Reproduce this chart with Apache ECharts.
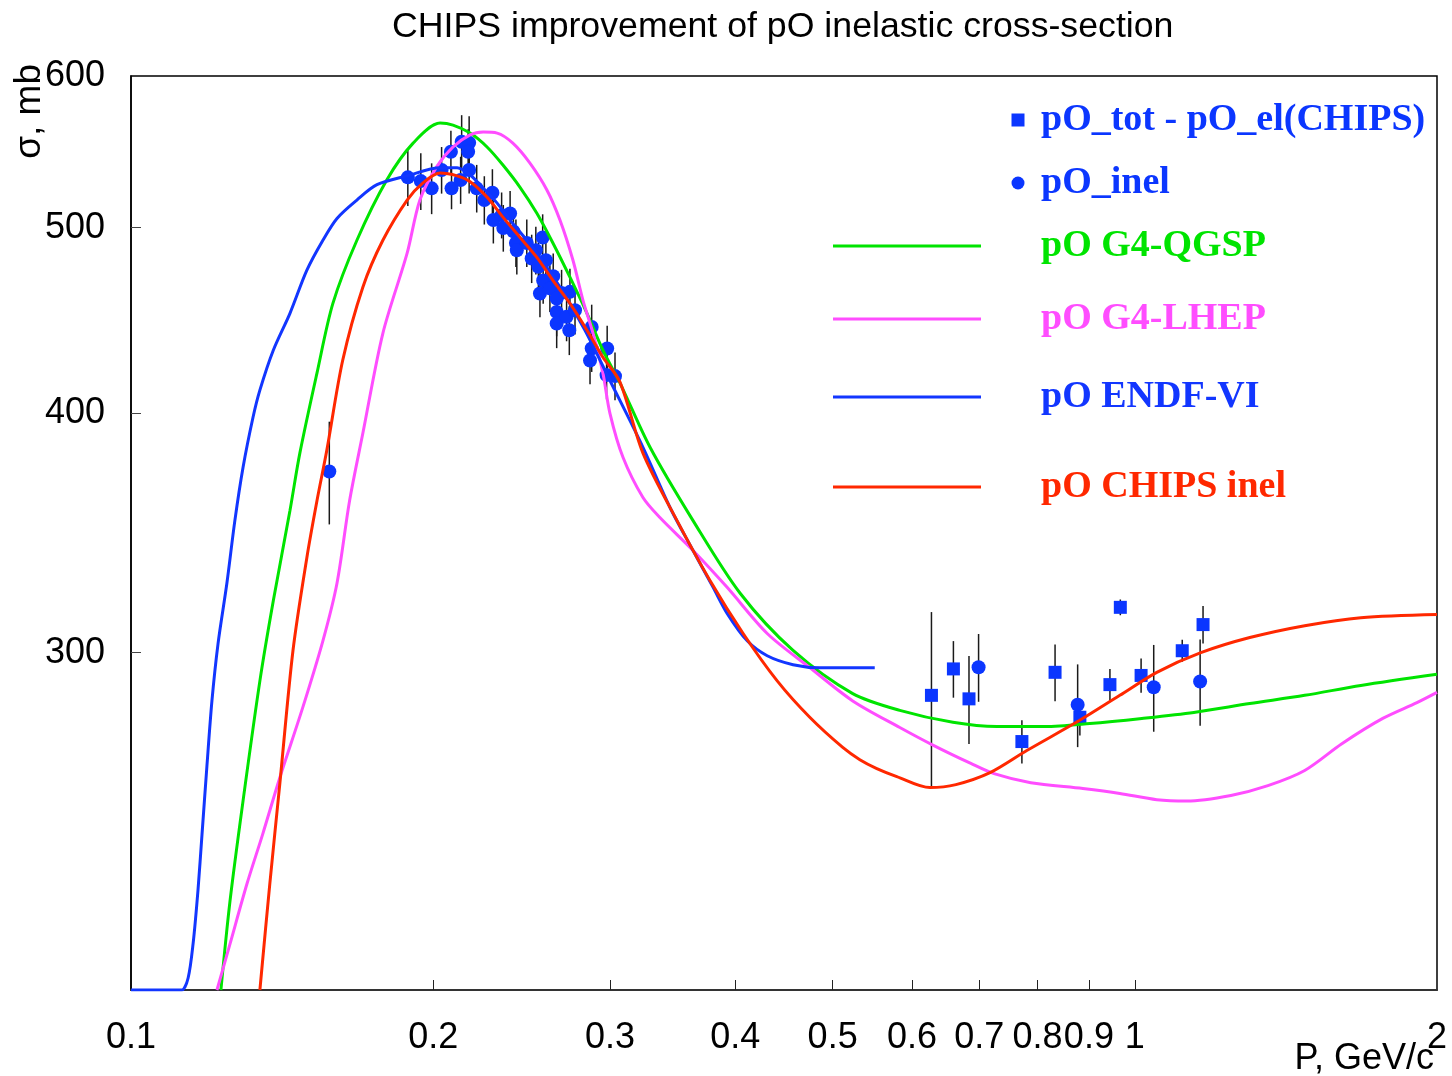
<!DOCTYPE html>
<html><head><meta charset="utf-8">
<script src="https://cdn.jsdelivr.net/npm/echarts@6/dist/echarts.min.js"></script>
<style>html,body{margin:0;padding:0;background:#fff}#c{width:1452px;height:1076px}</style>
</head><body><div id="c"></div>
<script>
// ---- axis ticks / labels (P in GeV/c, sigma in mb) ----
const xLabelValues = [0.1,0.2,0.3,0.4,0.5,0.6,0.7,0.8,0.9,1,2];
const xTickValues  = [0.2,0.3,0.4,0.5,0.6,0.7,0.8,0.9,1];
const yLabelValues = [300,400,500,600];
const yTickValues  = [300,400,500];

// ---- curves ----
const qgspX = [0.1229,0.1255,0.1293,0.1344,0.1386,0.1440,0.1473,0.1532,0.1589,0.1679,0.1798,0.1910,0.2032,0.2093,0.2177,0.2263,0.2347,0.2440,0.2537,0.2632,0.2737,0.2846,0.2952,0.3070,0.3289,0.3630,0.4044,0.4566,0.5236,0.5833,0.6588,0.7290,0.8135,0.9020,1.0162,1.1450,1.3018,1.4765,1.6794,2.0];
const qgspY = [200,222.6,251.0,290.0,319.3,355.9,381.3,419.8,456.5,492.5,529.5,553.5,567.0,565.6,560.2,550.9,539.1,525.0,508.7,490.9,471.1,451.1,431.5,414.8,384.0,351.6,322.2,300.8,285.6,279.9,275.9,274.5,274.5,275.5,277.2,279.2,282.2,285.0,288.4,292.3];

const lhepX = [0.1218,0.1255,0.1305,0.1353,0.1407,0.1483,0.1553,0.1604,0.1651,0.1702,0.1782,0.1884,0.1940,0.2016,0.2093,0.2177,0.2243,0.2316,0.2401,0.2496,0.2596,0.2675,0.2756,0.2820,0.2886,0.2952,0.3000,0.3091,0.3236,0.3364,0.3630,0.3925,0.4303,0.4747,0.5236,0.5833,0.6307,0.6865,0.7240,0.7877,0.8877,0.9662,1.0517,1.1268,1.2465,1.3570,1.4765,1.6078,1.7660,1.9100,2.0];
const lhepY = [200,211.4,227.3,241.3,258.2,280.9,304.3,326.1,360.1,390.5,440.4,484.9,516.9,537.9,550.9,559.0,560.9,560.2,553.5,540.5,523.2,504.6,480.8,458.2,440.4,419.8,400.0,379.4,361.5,352.9,339.2,324.5,307.0,294.6,283.1,274.2,268.3,262.6,259.4,256.6,254.8,253.3,251.4,251.0,252.7,255.7,260.4,268.9,277.2,282.5,286.0];

const endfX = [0.1,0.1106,0.1124,0.1140,0.1153,0.1166,0.1177,0.1190,0.1204,0.1221,0.1246,0.1269,0.1293,0.1323,0.1344,0.1386,0.1440,0.1497,0.1553,0.1604,0.1679,0.1758,0.1884,0.2032,0.2113,0.2177,0.2243,0.2316,0.2386,0.2525,0.2675,0.2833,0.3000,0.3236,0.3443,0.3630,0.3801,0.3925,0.4110,0.4303,0.4566,0.4856,0.5507];
const endfY = [200,200,200,202.9,211.4,225.4,241.3,261.4,283.1,303.3,326.1,351.6,374.8,398.1,411.3,431.5,451.1,475.1,492.5,505.6,516.9,526.5,532.1,537.3,537.3,532.7,524.4,515.0,504.6,486.6,465.5,442.0,416.1,384.0,357.2,339.2,324.5,314.5,304.3,298.9,295.7,294.6,294.6];

const chipsX = [0.1344,0.1375,0.1407,0.1450,0.1497,0.1532,0.1567,0.1625,0.1702,0.1782,0.1884,0.1954,0.2032,0.2113,0.2177,0.2263,0.2347,0.2440,0.2537,0.2632,0.2737,0.2846,0.2952,0.3070,0.3236,0.3499,0.3775,0.4072,0.4403,0.4747,0.5117,0.5322,0.5533,0.5793,0.6250,0.6634,0.7174,0.7805,0.8796,0.9662,1.0517,1.1635,1.3018,1.4765,1.6794,2.0];
const chipsY = [200,227.3,256.4,300.8,336.4,360.1,382.6,426.2,465.5,492.5,516.9,527.7,533.9,532.1,528.4,518.7,506.4,494.3,482.5,469.3,456.5,442.0,427.9,415.3,381.3,351.6,327.1,307.0,290.0,277.5,267.7,263.8,261.0,258.5,255.1,256.0,259.7,266.7,276.4,285.0,293.0,300.0,305.5,309.9,312.9,314.1];

// ---- data points ----
const totX = [0.6272,0.6596,0.6836,0.7718,0.8328,0.8816,0.9445,0.9673,1.0145,1.1149,1.1694];
const totY = [285.0,294.2,283.8,269.6,293.0,277.6,288.7,316.8,291.9,300.7,310.3];
const totErr = [30,10,15,7,10,6,5.5,3,6,4,7];

const inelX = [0.1576,0.1887,0.1944,0.1993,0.2039,0.2083,0.2086,0.2135,0.2172,0.2167,0.2130,0.2172,0.2210,0.2249,0.2291,0.2296,0.2340,0.2349,0.2386,0.2404,0.2418,0.2423,0.2479,0.2507,0.2531,0.2571,0.2546,0.2590,0.2574,0.2555,0.2634,0.2614,0.2685,0.2655,0.2737,0.2655,0.2655,0.2716,0.2769,0.2733,0.2877,0.2877,0.2866,0.2981,0.2977,0.3035,0.6988,0.8771,1.0443,1.1616];
const inelY = [373.0,531.2,528.8,524.2,535.9,547.8,524.2,554.4,553.7,547.8,529.5,535.9,524.2,516.9,521.4,504.6,507.6,499.8,508.6,497.8,490.9,486.6,490.9,481.8,486.6,494.1,477.0,480.8,469.3,462.0,471.7,464.8,462.3,459.2,462.9,451.8,445.6,449.2,452.8,442.0,443.8,432.4,426.2,432.4,418.8,418.3,294.8,281.8,287.8,289.8];
const inelErr = [23,18,18,16,15,14,13,18,18,15,15,15,15,15,15,14,14,14,14,14,14,14,14,14,14,14,14,13,13,13,13,13,13,13,13,13,13,13,13,13,12,12,12,12,12,12,12,14,15,15];

// ---- styling ----
const C_BLUE_PT = '#0b36ff', C_GREEN = '#00e400', C_MAG = '#ff4dff', C_BLUE = '#1236ff', C_RED = '#ff2800';
const L = Math.log10;
const pts = (xs, ys) => xs.map((x, i) => [L(x), L(ys[i])]);
const errs = (xs, ys, es) => xs.map((x, i) => [L(x), L(ys[i] - es[i]), L(ys[i] + es[i])]);
const fmt = v => String(parseFloat(Math.pow(10, v).toPrecision(6)));

function errSeries(name, data) {
  return {
    type: 'custom', name: name, z: 2, data: data, encode: {x: 0, y: [1, 2]},
    renderItem: function (params, api) {
      const a = api.coord([api.value(0), api.value(1)]);
      const b = api.coord([api.value(0), api.value(2)]);
      return {type: 'line', shape: {x1: a[0], y1: a[1], x2: b[0], y2: b[1]},
              style: {stroke: '#1a1a1a', lineWidth: 1.5}};
    }
  };
}
function lineSeries(name, xs, ys, color, z) {
  return {type: 'line', name: name, data: pts(xs, ys), color: color, z: z,
          showSymbol: false, symbol: 'none', smooth: 0.3,
          lineStyle: {color: color, width: 3}};
}
function legendBox(name, icon, color, left, cy, w, h, pad) {
  return {show: true, data: [{name: name, icon: icon}], left: left, top: cy - 24,
          orient: 'horizontal', padding: 0, itemGap: 0, itemWidth: w, itemHeight: h,
          selectedMode: false, itemStyle: {borderWidth: 0},
          textStyle: {color: color, fontFamily: 'Liberation Serif', fontWeight: 'bold',
                      fontSize: 38, lineHeight: 40, padding: [8, 0, 0, pad]}};
}

const chart = echarts.init(document.getElementById('c'), null, {renderer: 'canvas'});
chart.setOption({
  animation: false,
  backgroundColor: '#fff',
  title: {text: 'CHIPS improvement of pO inelastic cross-section', left: 392, top: 7, padding: 0,
          textStyle: {fontFamily: 'Liberation Sans', fontWeight: 'normal', fontSize: 35.7, lineHeight: 40, color: '#000'}},
  legend: [
    legendBox('pO_tot - pO_el(CHIPS)', 'rect', C_BLUE_PT, 1011.5, 120, 13, 13, 11.5),
    legendBox('pO_inel', 'circle', C_BLUE_PT, 1011.5, 183, 13, 13, 11.5),
    legendBox('pO G4-QGSP', 'rect', C_GREEN, 833, 246, 148, 3, 55),
    legendBox('pO G4-LHEP', 'rect', C_MAG, 833, 319, 148, 3, 55),
    legendBox('pO ENDF-VI', 'rect', C_BLUE, 833, 397, 148, 3, 55),
    legendBox('pO CHIPS inel', 'rect', C_RED, 833, 487, 148, 3, 55)
  ],
  grid: {left: 131, right: 15, top: 76, bottom: 86, show: true, borderColor: '#000', borderWidth: 1.5,
         backgroundColor: '#fff', containLabel: false, outerBoundsMode: 'none'},
  xAxis: {
    type: 'value', min: L(0.1), max: L(2),
    name: 'P, GeV/c', nameLocation: 'end', nameGap: -3, nameMoveOverlap: false,
    nameTextStyle: {fontFamily: 'Liberation Sans', fontSize: 36, lineHeight: 40, color: '#000',
                    align: 'right', verticalAlign: 'top', padding: [49, 0, 0, 0]},
    axisLine: {show: true, onZero: false, lineStyle: {color: '#333', width: 2}},
    axisTick: {show: true, inside: true, length: 10, customValues: xTickValues.map(L), lineStyle: {color: '#222', width: 1}},
    axisLabel: {show: true, margin: 30, customValues: xLabelValues.map(L), formatter: fmt, hideOverlap: false,
                fontFamily: 'Liberation Sans', fontSize: 36, lineHeight: 36, color: '#000'},
    splitLine: {show: false}
  },
  yAxis: {
    type: 'value', min: L(200), max: L(600),
    name: 'σ, mb', nameLocation: 'end', nameRotate: 90, nameGap: 12, nameMoveOverlap: false,
    nameTextStyle: {fontFamily: 'Liberation Sans', fontSize: 37, lineHeight: 203, color: '#000',
                    align: 'right', verticalAlign: 'bottom'},
    axisLine: {show: true, onZero: false, lineStyle: {color: '#000', width: 1.5}},
    axisTick: {show: true, inside: true, length: 10, customValues: yTickValues.map(L), lineStyle: {color: '#444', width: 1}},
    axisLabel: {show: true, margin: 26, customValues: yLabelValues.map(L), formatter: fmt, hideOverlap: false,
                fontFamily: 'Liberation Sans', fontSize: 36, lineHeight: 36, color: '#000', padding: [4, 0, 0, 0]},
    splitLine: {show: false}
  },
  series: [
    errSeries('err_tot', errs(totX, totY, totErr)),
    errSeries('err_inel', errs(inelX, inelY, inelErr)),
    {type: 'scatter', name: 'pO_tot - pO_el(CHIPS)', data: pts(totX, totY), symbol: 'rect', symbolSize: 13,
     z: 3, color: C_BLUE_PT, itemStyle: {color: C_BLUE_PT, opacity: 1}},
    {type: 'scatter', name: 'pO_inel', data: pts(inelX, inelY), symbol: 'circle', symbolSize: 14,
     z: 3, color: C_BLUE_PT, itemStyle: {color: C_BLUE_PT, opacity: 1}},
    lineSeries('pO G4-QGSP', qgspX, qgspY, C_GREEN, 4),
    lineSeries('pO G4-LHEP', lhepX, lhepY, C_MAG, 4),
    lineSeries('pO ENDF-VI', endfX, endfY, C_BLUE, 4),
    lineSeries('pO CHIPS inel', chipsX, chipsY, C_RED, 5)
  ]
});
</script>
</body></html>
